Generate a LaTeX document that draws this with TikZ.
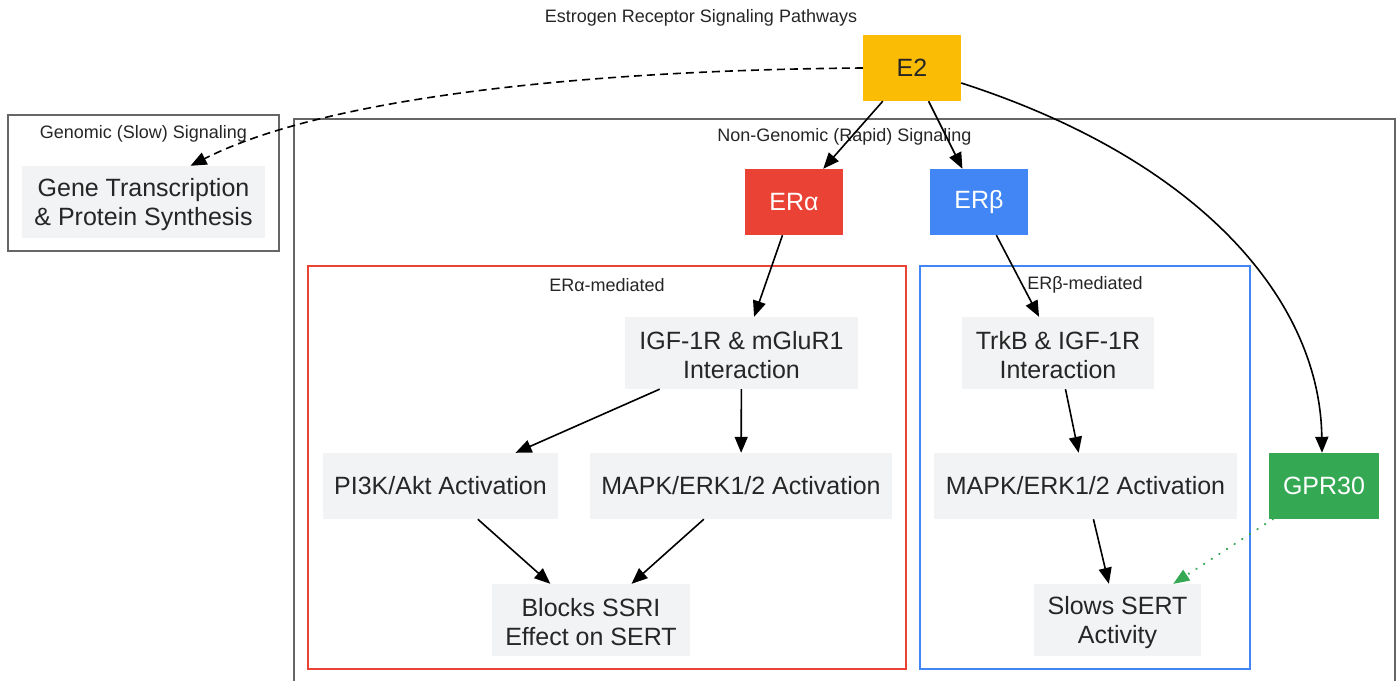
\documentclass[tikz,border=0pt]{standalone}
\usepackage{fontspec}
\setmainfont{Liberation Sans}
\usetikzlibrary{arrows.meta,calc}
\definecolor{cyel}{HTML}{FBBC05}
\definecolor{cred}{HTML}{EA4335}
\definecolor{cblue}{HTML}{4285F4}
\definecolor{cgreen}{HTML}{34A853}
\definecolor{cgray}{HTML}{F1F3F4}
\definecolor{ctext}{HTML}{262626}
\definecolor{cborder}{HTML}{666666}
\newcommand{\topstrut}{\rule{0pt}{23pt}}
\tikzset{
  box/.style={draw=none, inner sep=0pt, align=center, font=\fontsize{25}{29}\selectfont, text=ctext},
  graybox/.style={box, fill=cgray},
  colbox/.style={box, fill=#1, text=white},
  cluster/.style={line width=1.5pt},
  lab/.style={inner sep=0pt, font=\fontsize{18}{21}\selectfont, text=ctext},
  edge/.style={line width=1.6pt, -{Triangle[length=16pt,width=13pt]}},
}
\begin{document}
\begin{tikzpicture}[x=1pt,y=-1pt]
\clip (0,0) rectangle (1399,680);
\fill[white] (0,0) rectangle (1399,680);
% clusters
\draw[cluster, draw=cborder] (8,115) rectangle (279,251);
\draw[cluster, draw=cborder] (294,119) rectangle (1395,700);
\draw[cluster, draw=cred] (308,266) rectangle (906,669);
\draw[cluster, draw=cblue] (920,266) rectangle (1250,669);
% labels
\node[lab] (title) at (701,18) {Estrogen Receptor Signaling Pathways};
\node[lab] (lgen) at (143.5,134) {Genomic (Slow) Signaling};
\node[lab] (lnon) at (844.5,137) {Non-Genomic (Rapid) Signaling};
\node[lab] (lera) at (607,285) {ERα-mediated};
\node[lab] (lerb) at (1085,285) {ERβ-mediated};
% nodes
\node[box, fill=cyel, minimum width=98, minimum height=66] (e2) at (912,68) {E2};
\node[graybox, minimum width=243, minimum height=72] (gene) at (143.5,202) {\topstrut Gene Transcription\\\& Protein Synthesis};
\node[colbox=cred, minimum width=98, minimum height=66] (era) at (794,202) {ERα};
\node[colbox=cblue, minimum width=98, minimum height=66] (erb) at (979,202) {ERβ};
\node[graybox, minimum width=233, minimum height=72] (igf) at (741.5,353) {\topstrut IGF-1R \& mGluR1\\Interaction};
\node[graybox, minimum width=235, minimum height=66] (pi3k) at (440.5,486) {PI3K/Akt Activation};
\node[graybox, minimum width=302, minimum height=66] (mapkl) at (741,486) {MAPK/ERK1/2 Activation};
\node[graybox, minimum width=198, minimum height=72] (blocks) at (591,620) {\topstrut Blocks SSRI\\Effect on SERT};
\node[graybox, minimum width=192, minimum height=72] (trkb) at (1058,353) {\topstrut TrkB \& IGF-1R\\Interaction};
\node[graybox, minimum width=303, minimum height=66] (mapkr) at (1085.5,486) {MAPK/ERK1/2 Activation};
\node[graybox, minimum width=167, minimum height=72] (slows) at (1117.5,620) {\topstrut Slows SERT\\Activity};
\node[colbox=cgreen, minimum width=110, minimum height=66] (gpr) at (1324,486) {GPR30};
% edges
\draw[edge, dash pattern=on 8pt off 5pt] (e2.west) .. controls (600,70) and (330,95) .. ($(gene.north)+(47,0)$);
\draw[edge] (e2) -- (era);
\draw[edge] (e2) -- (erb);
\draw[edge] ($(e2.east)+(0,15)$) .. controls (1200,160) and (1320,300) .. ($(gpr.north)+(-2,0)$);
\draw[edge] (era) -- (igf);
\draw[edge] (erb) -- (trkb);
\draw[edge] (igf) -- (pi3k);
\draw[edge] (igf) -- (mapkl);
\draw[edge] (pi3k) -- (blocks);
\draw[edge] (mapkl) -- (blocks);
\draw[edge] (trkb) -- (mapkr);
\draw[edge] (mapkr) -- (slows);
\draw[line width=2.4pt, cgreen, line cap=round, dash pattern=on 0.1pt off 9pt, -{Triangle[length=16pt,width=13pt,line width=0pt]}] (gpr) -- (slows);
\end{tikzpicture}
\end{document}
